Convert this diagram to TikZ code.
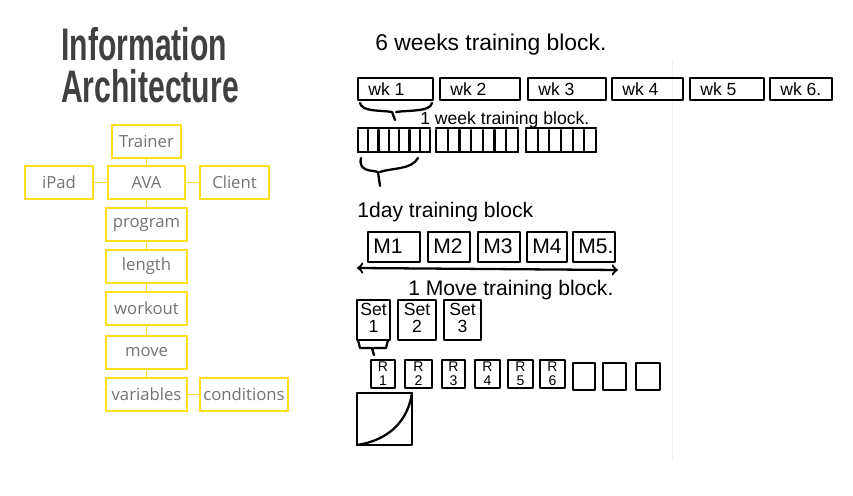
\documentclass[tikz,border=0pt]{standalone}
\usepackage{fontspec}
\setmainfont{Open Sans}
\newfontfamily\titlefont{Liberation Sans}
\newfontfamily\handfont{Liberation Sans}
\begin{document}
\begin{tikzpicture}[x=0.02cm,y=-0.02cm,
  ia/.style={draw=yellow!80!orange!90!white,line width=0.8pt,fill=white,minimum height=0.66cm,text=gray!90!black,font=\fontsize{9.5}{11}\selectfont,inner sep=0pt},
  link/.style={draw=yellow!80!orange!90!white,line width=0.8pt},
  pen/.style={line width=1.3pt,black,line cap=round,line join=round},
  hand/.style={font=\handfont\fontsize{10}{12}\selectfont,inner sep=0pt,anchor=west}]
\useasboundingbox (0,0) rectangle (853,496);
\node[anchor=north west,font=\titlefont\bfseries\fontsize{26}{24}\selectfont,text=black!75,align=left,inner sep=0pt,xscale=0.66] (title) at (61,27) {Information\\Architecture};
% IA tree
\node[ia,minimum width=1.38cm] (trainer) at (146.5,141.5) {Trainer};
\node[ia,minimum width=1.54cm] (ava) at (146.5,182.5) {AVA};
\node[ia,minimum width=1.36cm] (ipad) at (59,182.5) {iPad};
\node[ia,minimum width=1.38cm] (client) at (234.5,182.5) {Client};
\node[ia,minimum width=1.62cm] (program) at (146.5,224.5) {program};
\node[ia,minimum width=1.62cm] (length) at (146.5,266.5) {length};
\node[ia,minimum width=1.62cm] (workout) at (146.5,308.5) {workout};
\node[ia,minimum width=1.62cm] (move) at (146.5,352.5) {move};
\node[ia,minimum width=1.62cm] (variables) at (146.5,394.5) {variables};
\node[ia,minimum width=1.76cm] (conditions) at (244,394.5) {conditions};
\draw[link] (trainer) -- (ava);
\draw[link] (ipad) -- (ava);
\draw[link] (ava) -- (client);
\draw[link] (ava) -- (program);
\draw[link] (program) -- (length);
\draw[link] (length) -- (workout);
\draw[link] (workout) -- (move);
\draw[link] (move) -- (variables);
\draw[link] (variables) -- (conditions);
% sketch
\draw[gray!12,line width=0.5pt] (672,60) -- (672,460);
\node[hand,font=\handfont\fontsize{13}{15}\selectfont] (t6) at (375,45) {6 weeks training block.};
\foreach \a/\b/\t [count=\i] in {358/433/wk 1,440/520/wk 2,528/606/wk 3,612/683/wk 4,690/764/wk 5,770/832/wk 6.}{
  \draw[pen] (\a,78) rectangle (\b,100);
  \node[hand] (w\i) at (\a+10,89) {\t};
}
\draw[pen] (360,103) .. controls (362,112) and (380,110) .. (392,112) -- (395,120);
\draw[pen] (432,103) .. controls (430,112) and (410,110) .. (396,112);
\node[hand] (t1w) at (420,120) {1 week training block.};
\foreach \a/\b/\n in {358/430/7,436/518/7,526/596/6}{
  \draw[pen] (\a,128) -- (\b,128) (\a,152) -- (\b,152);
  \foreach \k in {0,...,\n}{\draw[pen] ({\a+\k*(\b-\a)/\n},130) -- ({\a+\k*(\b-\a)/\n},152);}
}
\draw[pen] (361,158) .. controls (358,172) and (372,170) .. (378,172) -- (380,186);
\draw[pen] (418,158) .. controls (412,170) and (390,168) .. (380,172);
\node[hand,font=\handfont\fontsize{12}{14}\selectfont] (t1d) at (357,212) {1day training block};
\foreach \a/\b/\t [count=\i] in {368/420/M1,428/470/M2,478/520/M3,527/567/M4,573/615/M5.}{
  \draw[pen] (\a,232) rectangle (\b,262);
  \node[hand,font=\handfont\fontsize{12}{14}\selectfont] (m\i) at (\a+5,246) {\t};
}
\coordinate (al) at (357,268); \coordinate (ar) at (618,270);
\draw[pen,<->] (al) -- (ar);
\node[hand,font=\handfont\fontsize{12}{14}\selectfont] (t1m) at (408,290) {1 Move training block.};
\foreach \a/\b/\n [count=\i] in {357/390/1,398/436/2,444/481/3}{
  \draw[pen] (\a,300) rectangle (\b,340);
  \node[font=\handfont\fontsize{10}{10}\selectfont,align=center,inner sep=0pt] (s\i) at ({(\a+\b)/2},318) {Set\\\n};
}
\draw[pen] (358,340) -- (360,348) -- (372,348) -- (374,355) (374,348) -- (386,348) -- (388,340);
\foreach \a/\b [count=\i] in {371/395,405/432,442/465,475/500,508/533,540/565}{
  \draw[pen] (\a,360) rectangle (\b,388);
  \node[font=\handfont\fontsize{8}{8}\selectfont,align=center,inner sep=0pt] (r\i) at ({(\a+\b)/2},374) {R\\\i};
}
\foreach \a/\b in {573/595,603/626,636/660}{\draw[pen] (\a,363) rectangle (\b,390);}
\draw[pen] (357,393) rectangle (412,445);
\draw[pen] (357,445) .. controls (390,440) and (408,420) .. (412,393);
\end{tikzpicture}
\end{document}
